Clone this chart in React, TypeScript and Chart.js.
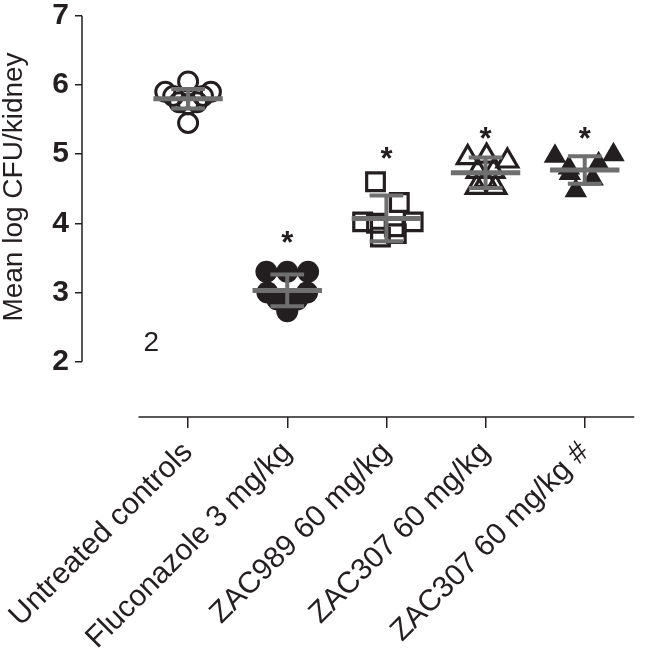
import React, { useEffect, useRef } from 'react';
import { Chart, registerables } from 'chart.js';

Chart.register(...registerables);

// ---------- data ----------
const categories = [
  'Untreated controls',
  'Fluconazole 3 mg/kg',
  'ZAC989 60 mg/kg',
  'ZAC307 60 mg/kg',
  'ZAC307 60 mg/kg #',
];
const yTickValues = [2, 3, 4, 5, 6, 7];

const untreatedValues = [6.05, 5.9, 5.9, 5.84, 5.84, 5.75, 5.75, 5.72, 5.45];
const untreatedJitter = [0, -0.23, 0.23, -0.15, 0.15, -0.09, 0.09, 0, 0];

const fluconazoleValues = [3.3, 3.3, 3.3, 3.0, 3.0, 2.9, 2.9, 2.85, 2.73];
const fluconazoleJitter = [-0.21, 0, 0.21, -0.2, 0.2, -0.1, 0.1, 0, 0];

const zac989Values = [4.6, 4.3, 4.02, 4.02, 4.0, 3.95, 3.8, 3.85];
const zac989Jitter = [-0.11, 0.13, -0.24, 0.27, -0.1, 0.08, -0.06, 0.1];

const zac307Values = [4.95, 4.97, 4.9, 4.75, 4.75, 4.62, 4.52, 4.52];
const zac307Jitter = [-0.18, 0.01, 0.22, -0.08, 0.08, 0, -0.09, 0.1];

const zac307bValues = [4.97, 4.99, 4.8, 4.86, 4.64, 4.47, 4.72];
const zac307bJitter = [-0.3, 0.29, -0.16, 0.14, 0.08, -0.09, -0.15];

const groupMeans = [5.8, 3.03, 4.07, 4.73, 4.77];
const groupSDs = [0.14, 0.23, 0.33, 0.22, 0.2];

const starLabels = ['', '*', '*', '*', '*'];
const starValues = [null, 3.83, 5.04, 5.34, 5.33];

const strayLabel = '2';
const strayLabelX = -0.37;
const strayLabelY = 2.26;

const yTitle = 'Mean log CFU/kidney';

// ---------- styles ----------
const FONT = "'Liberation Sans', Arial, Helvetica, sans-serif";
const INK = '#231f20';
const GRAY = '#6f6f6f';

function pts(groupIndex: number, values: number[], jitter: number[]) {
  return values.map((v, i) => ({ x: groupIndex + jitter[i], y: v }));
}

function summaryLines() {
  const meanPts: any[] = [];
  const barPts: any[] = [];
  groupMeans.forEach((m, i) => {
    const sd = groupSDs[i];
    meanPts.push({ x: i - 0.35, y: m }, { x: i + 0.35, y: m }, { x: i, y: null });
    barPts.push({ x: i - 0.17, y: m + sd }, { x: i + 0.17, y: m + sd }, { x: i, y: null });
    barPts.push({ x: i - 0.17, y: m - sd }, { x: i + 0.17, y: m - sd }, { x: i, y: null });
    barPts.push({ x: i, y: m - sd }, { x: i, y: m + sd }, { x: i, y: null });
  });
  return { meanPts, barPts };
}

const overlayPlugin = {
  id: 'overlay',
  afterDraw(chart: any) {
    const { ctx, chartArea, scales } = chart;
    const xs = scales.x;
    const ys = scales.y;
    ctx.save();
    ctx.strokeStyle = INK;
    ctx.lineWidth = 1.5;
    // y axis line (2..7)
    ctx.beginPath();
    ctx.moveTo(chartArea.left, ys.getPixelForValue(yTickValues[yTickValues.length - 1]));
    ctx.lineTo(chartArea.left, ys.getPixelForValue(yTickValues[0]));
    ctx.stroke();
    // x axis line
    ctx.beginPath();
    ctx.moveTo(xs.getPixelForValue(-0.5), chartArea.bottom);
    ctx.lineTo(chartArea.right, chartArea.bottom);
    ctx.stroke();

    // stars
    ctx.fillStyle = INK;
    ctx.font = `bold 31px ${FONT}`;
    ctx.textAlign = 'center';
    ctx.textBaseline = 'alphabetic';
    starLabels.forEach((s, i) => {
      const v = starValues[i];
      if (!s || v == null) return;
      ctx.fillText(s, xs.getPixelForValue(i), ys.getPixelForValue(v) + 18);
    });

    // stray label
    ctx.font = `28px ${FONT}`;
    ctx.textBaseline = 'middle';
    ctx.fillText(strayLabel, xs.getPixelForValue(strayLabelX), ys.getPixelForValue(strayLabelY));

    // y title
    ctx.translate(14, 187);
    ctx.rotate(-Math.PI / 2);
    ctx.textAlign = 'center';
    ctx.textBaseline = 'middle';
    ctx.font = `28px ${FONT}`;
    ctx.fillText(yTitle, 0, 0);
    ctx.restore();
  },
};

export default function App() {
  const ref = useRef<HTMLCanvasElement>(null);
  useEffect(() => {
    if (!ref.current) return;
    const { meanPts, barPts } = summaryLines();
    const chart = new Chart(ref.current, {
      type: 'scatter',
      data: {
        datasets: [
          {
            type: 'line',
            data: meanPts,
            borderColor: GRAY,
            borderWidth: 5,
            pointRadius: 0,
            spanGaps: false,
            order: 1,
          } as any,
          {
            type: 'line',
            data: barPts,
            borderColor: GRAY,
            borderWidth: 4,
            pointRadius: 0,
            spanGaps: false,
            order: 1,
          } as any,
          {
            data: pts(0, untreatedValues, untreatedJitter),
            pointStyle: 'circle',
            pointRadius: 9.5,
            borderWidth: 3,
            borderColor: INK,
            backgroundColor: 'rgba(0,0,0,0)',
            order: 2,
          },
          {
            data: pts(1, fluconazoleValues, fluconazoleJitter),
            pointStyle: 'circle',
            pointRadius: 11,
            borderWidth: 0,
            borderColor: INK,
            backgroundColor: INK,
            order: 2,
          },
          {
            data: pts(2, zac989Values, zac989Jitter),
            pointStyle: 'rect',
            pointRadius: 12.5,
            borderWidth: 3.2,
            borderColor: INK,
            backgroundColor: 'rgba(0,0,0,0)',
            order: 2,
          },
          {
            data: pts(3, zac307Values, zac307Jitter),
            pointStyle: 'triangle',
            pointRadius: 12,
            borderWidth: 3.2,
            borderColor: INK,
            backgroundColor: 'rgba(0,0,0,0)',
            order: 2,
          },
          {
            data: pts(4, zac307bValues, zac307bJitter),
            pointStyle: 'triangle',
            pointRadius: 13,
            borderWidth: 0,
            borderColor: INK,
            backgroundColor: INK,
            order: 2,
          },
        ],
      },
      options: {
        animation: false,
        responsive: false,
        devicePixelRatio: 1,
        events: [],
        layout: { padding: { top: 11, left: 0, right: 0, bottom: 0 } },
        plugins: { legend: { display: false }, tooltip: { enabled: false } },
        scales: {
          x: {
            type: 'linear',
            min: -1.07,
            max: 4.5,
            afterBuildTicks: (s: any) => {
              s.ticks = categories.map((_, i) => ({ value: i }));
            },
            afterFit: (s: any) => {
              s.height = 232;
              s.paddingLeft = 0;
              s.paddingRight = 0;
            },
            ticks: {
              autoSkip: false,
              minRotation: 45,
              maxRotation: 45,
              padding: 7,
              color: INK,
              font: { family: FONT, size: 30 },
              callback: (v: any) => categories[Math.round(Number(v))] ?? '',
            },
            grid: { drawOnChartArea: false, drawTicks: true, tickLength: 11, color: INK, lineWidth: 1.5 },
            border: { display: false },
          },
          y: {
            type: 'linear',
            min: 1.2,
            max: 7,
            afterBuildTicks: (s: any) => {
              s.ticks = yTickValues.map((v) => ({ value: v }));
            },
            afterFit: (s: any) => {
              s.width = 82;
              s.paddingTop = 0;
              s.paddingBottom = 0;
            },
            ticks: {
              padding: 6,
              color: INK,
              font: { family: FONT, size: 30, weight: 'bold' },
            },
            grid: { drawOnChartArea: false, drawTicks: true, tickLength: 7, color: INK, lineWidth: 1.5 },
            border: { display: false },
          },
        },
      },
      plugins: [overlayPlugin],
    } as any);
    return () => chart.destroy();
  }, []);
  return (
    <div style={{ position: 'absolute', left: 0, top: 0, width: 650, height: 649, background: '#fff' }}>
      <canvas ref={ref} width={650} height={649} style={{ display: 'block' }} />
    </div>
  );
}
